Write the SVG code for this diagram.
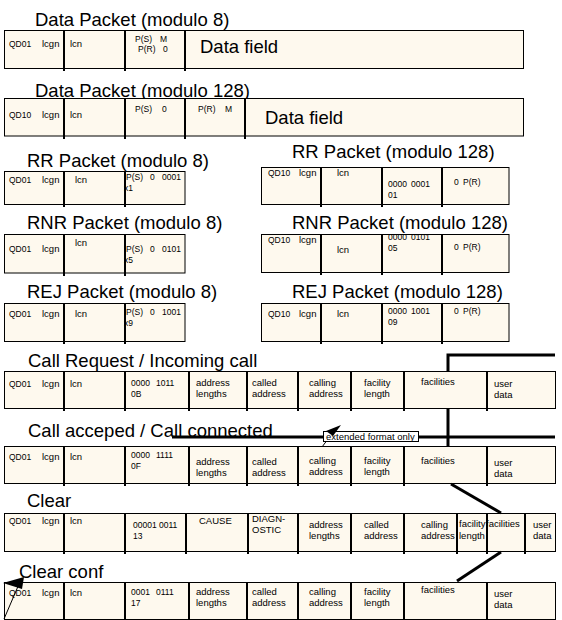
<svg xmlns="http://www.w3.org/2000/svg" width="562" height="620" viewBox="0 0 562 620">
<style>
.box{fill:#fef9ee;stroke:#000;stroke-width:1}
.dv{stroke:#000;stroke-width:2;fill:none}
.t{font-family:"Liberation Sans",Arial,sans-serif;font-size:9.5px;fill:#000}
.n{font-family:"Liberation Sans",Arial,sans-serif;font-size:8.5px;fill:#000}
.h{font-family:"Liberation Sans",Arial,sans-serif;font-size:18.5px;fill:#000}
.thick{stroke:#000;stroke-width:3;fill:none}
.thin{stroke:#000;stroke-width:1;fill:none}
</style>
<rect width="562" height="620" fill="#fff"/>
<g id="titles">
<text class="h" x="35" y="26">Data Packet (modulo 8)</text>
<text class="h" x="35" y="97">Data Packet (modulo 128)</text>
<text class="h" x="27" y="167">RR Packet (modulo 8)</text>
<text class="h" x="292" y="158">RR Packet (modulo 128)</text>
<text class="h" x="27" y="229">RNR Packet (modulo 8)</text>
<text class="h" x="292" y="229">RNR Packet (modulo 128)</text>
<text class="h" x="27" y="298">REJ Packet (modulo 8)</text>
<text class="h" x="292" y="298">REJ Packet (modulo 128)</text>
<text class="h" x="28" y="367">Call Request / Incoming call</text>
<text class="h" x="28" y="437">Call acceped / Call connected</text>
<text class="h" x="27" y="507">Clear</text>
<text class="h" x="19" y="578">Clear conf</text>
</g>
<g id="connectors-back">
<path class="thick" d="M555,355 H448 V446"/>
<path class="thick" d="M172,437 H555"/>
</g>
<g id="data8">
<rect class="box" x="4.5" y="30.5" width="519" height="38"/>
<text class="n" x="9" y="47">QD01</text><text class="t" x="42" y="47">lcgn</text><text class="t" x="70" y="47">lcn</text>
<text class="n" x="135" y="42">P(S)</text><text class="n" x="160" y="42">M</text>
<text class="n" x="138" y="52">P(R)</text><text class="n" x="163" y="52">0</text>
<text class="h" x="200" y="53">Data field</text>
<path class="dv" d="M64,30V71M125,30V71M185,30V71"/>
</g>
<g id="data128">
<rect class="box" x="4.5" y="98.5" width="519" height="37.5"/>
<text class="n" x="9" y="118">QD10</text><text class="t" x="42" y="118">lcgn</text><text class="t" x="70" y="118">lcn</text>
<text class="n" x="135" y="112">P(S)</text><text class="n" x="162" y="112">0</text>
<text class="n" x="198" y="112">P(R)</text><text class="n" x="225" y="112">M</text>
<text class="h" x="265" y="124">Data field</text>
<path class="dv" d="M64,98V139M125,98V139M185,98V139M245,98V139"/>
</g>
<g id="rr8">
<rect class="box" x="4.5" y="171.5" width="180.5" height="33"/>
<text class="n" x="9" y="183">QD01</text><text class="t" x="42" y="183">lcgn</text><text class="t" x="75" y="183">lcn</text>
<text class="n" x="126" y="180">P(S)</text><text class="n" x="150" y="180">0</text><text class="n" x="162" y="180">0001</text>
<text class="n" x="124" y="191">x1</text>
<path class="dv" d="M64,171V207M125,171V207"/>
</g>
<g id="rr128">
<rect class="box" x="261.5" y="167.5" width="247.5" height="37"/>
<text class="n" x="268" y="176">QD10</text><text class="t" x="299" y="176">lcgn</text><text class="t" x="337" y="176">lcn</text>
<text class="n" x="388" y="187">0000</text><text class="n" x="411" y="187">0001</text><text class="n" x="388" y="198">01</text>
<text class="n" x="454" y="185">0</text><text class="n" x="463" y="185">P(R)</text>
<path class="dv" d="M321,167V207M382,167V207M442,167V207"/>
</g>
<g id="rnr8">
<rect class="box" x="4.5" y="234.5" width="180.5" height="38.5"/>
<text class="n" x="9" y="252">QD01</text><text class="t" x="42" y="252">lcgn</text><text class="t" x="75" y="246">lcn</text>
<text class="n" x="126" y="252">P(S)</text><text class="n" x="150" y="252">0</text><text class="n" x="162" y="252">0101</text>
<text class="n" x="124" y="263">x5</text>
<path class="dv" d="M64,234V276M125,234V276"/>
</g>
<g id="rnr128">
<rect class="box" x="261.5" y="234.5" width="247.5" height="38"/>
<text class="n" x="268" y="243">QD10</text><text class="t" x="299" y="243">lcgn</text><text class="t" x="337" y="253">lcn</text>
<text class="n" x="388" y="240">0000</text><text class="n" x="411" y="240">0101</text><text class="n" x="388" y="251">05</text>
<text class="n" x="454" y="250">0</text><text class="n" x="463" y="250">P(R)</text>
<path class="dv" d="M321,234V275M382,234V275M442,234V275"/>
</g>
<g id="rej8">
<rect class="box" x="4.5" y="303.5" width="180.5" height="38"/>
<text class="n" x="9" y="317">QD01</text><text class="t" x="42" y="317">lcgn</text><text class="t" x="75" y="317">lcn</text>
<text class="n" x="126" y="315">P(S)</text><text class="n" x="150" y="315">0</text><text class="n" x="162" y="315">1001</text>
<text class="n" x="124" y="326">x9</text>
<path class="dv" d="M64,303V344M125,303V344"/>
</g>
<g id="rej128">
<rect class="box" x="261.5" y="303.5" width="247.5" height="38"/>
<text class="n" x="268" y="317">QD10</text><text class="t" x="299" y="317">lcgn</text><text class="t" x="337" y="317">lcn</text>
<text class="n" x="388" y="314">0000</text><text class="n" x="411" y="314">1001</text><text class="n" x="388" y="325">09</text>
<text class="n" x="454" y="314">0</text><text class="n" x="463" y="314">P(R)</text>
<path class="dv" d="M321,303V344M382,303V344M442,303V344"/>
</g>
<g id="callrequest">
<rect class="box" x="4.5" y="371.5" width="551" height="37"/>
<text class="n" x="9" y="387">QD01</text><text class="t" x="42" y="387">lcgn</text><text class="t" x="70" y="387">lcn</text>
<text class="n" x="131" y="386">0000</text><text class="n" x="156" y="386">1011</text><text class="n" x="131" y="397">0B</text>
<text class="t" x="196" y="386">address</text><text class="t" x="196" y="397">lengths</text>
<text class="t" x="252" y="386">called</text><text class="t" x="252" y="397">address</text>
<text class="t" x="309" y="386">calling</text><text class="t" x="309" y="397">address</text>
<text class="t" x="364" y="386">facility</text><text class="t" x="364" y="397">length</text>
<text class="t" x="421" y="385">facilities</text>
<text class="t" x="494" y="387">user</text><text class="t" x="494" y="398">data</text>
<path class="dv" d="M64,371V411M125,371V411M189,371V411M247,371V411M298,371V411M351,371V411M404,371V411M487,371V411"/>
</g>
<g id="callaccepted">
<rect class="box" x="4.5" y="446.5" width="551" height="37"/>
<text class="n" x="9" y="460">QD01</text><text class="t" x="42" y="460">lcgn</text><text class="t" x="70" y="460">lcn</text>
<text class="n" x="131" y="458">0000</text><text class="n" x="156" y="458">1111</text><text class="n" x="131" y="469">0F</text>
<text class="t" x="196" y="465">address</text><text class="t" x="196" y="476">lengths</text>
<text class="t" x="252" y="465">called</text><text class="t" x="252" y="476">address</text>
<text class="t" x="309" y="464">calling</text><text class="t" x="309" y="475">address</text>
<text class="t" x="364" y="464">facility</text><text class="t" x="364" y="475">length</text>
<text class="t" x="421" y="464">facilities</text>
<text class="t" x="494" y="466">user</text><text class="t" x="494" y="477">data</text>
<path class="dv" d="M64,446V486M125,446V486M189,446V486M247,446V486M298,446V486M351,446V486M404,446V486M487,446V486"/>
</g>
<g id="clear">
<rect class="box" x="4.5" y="513.5" width="551" height="38"/>
<text class="n" x="9" y="524">QD01</text><text class="t" x="42" y="524">lcgn</text><text class="t" x="70" y="524">lcn</text>
<text class="n" x="133" y="528">00001 0011</text><text class="n" x="133" y="539">13</text>
<text class="t" x="199" y="524">CAUSE</text>
<text class="t" x="252" y="522">DIAGN-</text><text class="t" x="252" y="533">OSTIC</text>
<text class="t" x="309" y="528">address</text><text class="t" x="309" y="539">lengths</text>
<text class="t" x="364" y="528">called</text><text class="t" x="364" y="539">address</text>
<text class="t" x="421" y="528">calling</text><text class="t" x="421" y="539">address</text>
<text class="t" x="459" y="527">facility</text><text class="t" x="459" y="539">length</text>
<text class="t" x="486" y="527">facilities</text>
<text class="t" x="533" y="528">user</text><text class="t" x="533" y="539">data</text>
<path class="dv" d="M64,513V554M125,513V554M186,513V554M248,513V554M298,513V554M351,513V554M404,513V554M457,513V554M487,513V554M525,513V554"/>
</g>
<g id="clearconf">
<rect class="box" x="4.5" y="582.5" width="551" height="37"/>
<text class="n" x="9" y="596">QD01</text><text class="t" x="42" y="596">lcgn</text><text class="t" x="70" y="596">lcn</text>
<text class="n" x="131" y="595">0001</text><text class="n" x="156" y="595">0111</text><text class="n" x="131" y="606">17</text>
<text class="t" x="196" y="595">address</text><text class="t" x="196" y="606">lengths</text>
<text class="t" x="252" y="595">called</text><text class="t" x="252" y="606">address</text>
<text class="t" x="309" y="595">calling</text><text class="t" x="309" y="606">address</text>
<text class="t" x="364" y="595">facility</text><text class="t" x="364" y="606">length</text>
<text class="t" x="421" y="593">facilities</text>
<text class="t" x="494" y="597">user</text><text class="t" x="494" y="608">data</text>
<path class="dv" d="M64,582V620M125,582V620M189,582V620M247,582V620M298,582V620M351,582V620M404,582V620M487,582V620"/>
</g>
<g id="connectors">
<path class="thick" d="M451,484 L501,513"/>
<path class="thick" d="M501,552 L457,581"/>
<path class="thin" d="M322,447 L334,431"/>
<path class="thin" d="M4,619 L19,584"/>
<polygon points="3,583 24,577 22,589" fill="#000"/>
</g>
<g id="label-extended">
<rect x="323.5" y="431.5" width="95" height="10" fill="#fff" stroke="#000" stroke-width="1"/>
<text class="t" x="326" y="440">extended format only</text>
<polygon points="341,425 326,431 333,436" fill="#000"/>
</g>
</svg>
